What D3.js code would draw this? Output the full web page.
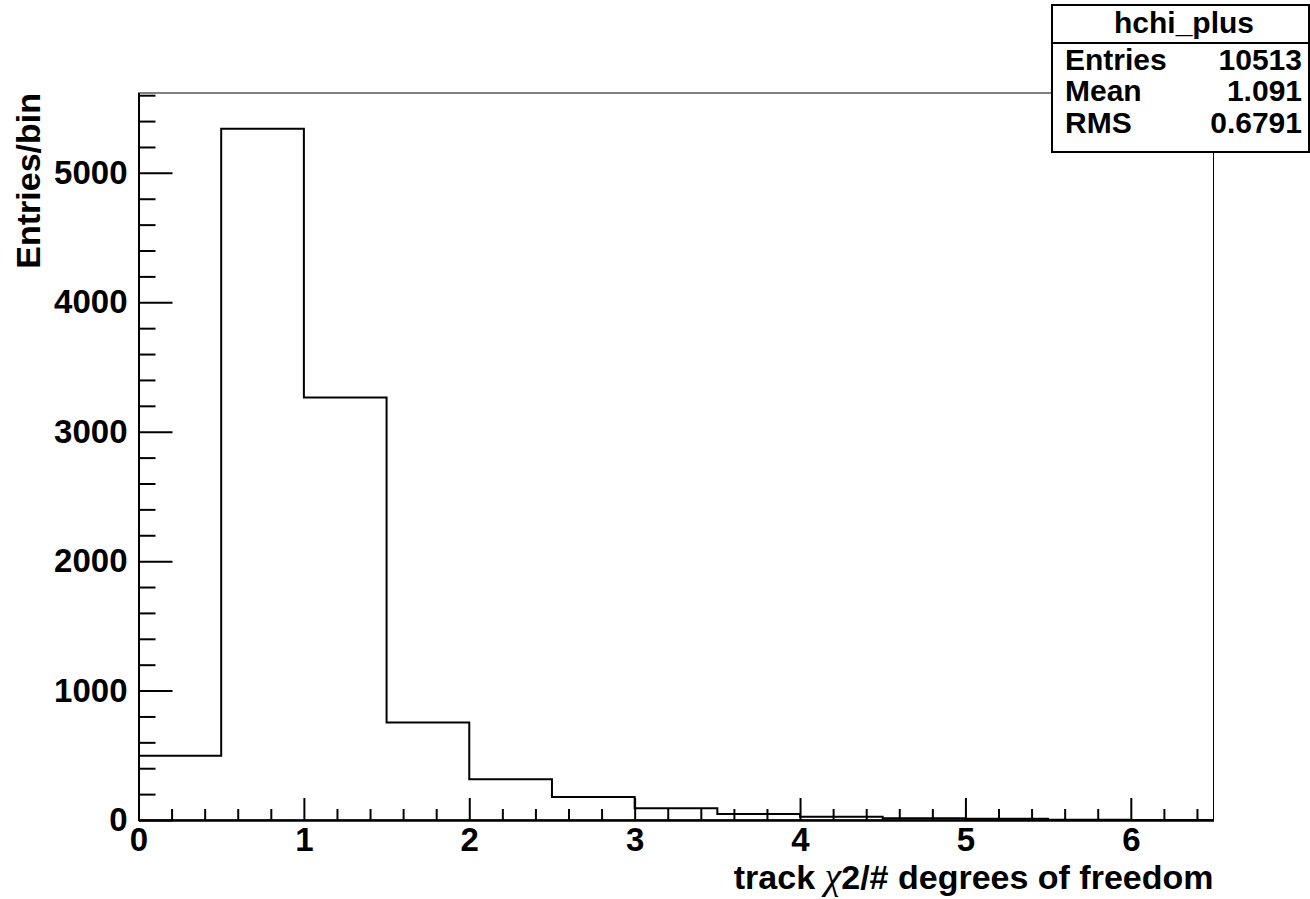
<!DOCTYPE html>
<html>
<head>
<meta charset="utf-8">
<script src="https://cdn.jsdelivr.net/npm/d3@7"></script>
<style>
  body { margin: 0; background: #fff; }
  svg { display: block; font-family: "Liberation Sans", Arial, sans-serif; font-weight: bold; }
</style>
</head>
<body>
<svg width="1310" height="899"></svg>
<script>
// histogram hchi_plus, bin width 0.5 from 0 to 6.5
var binWidth = 0.5;
var counts = [496, 5340, 3265, 754, 314, 178, 90, 46, 25, 13, 10, 1, 0];
var xMajor = [0, 1, 2, 3, 4, 5, 6];
var yMajor = [0, 1000, 2000, 3000, 4000, 5000];
var statLabels = ["Entries", "Mean", "RMS"];
var statValues = ["10513", "1.091", "0.6791"];
var histName = "hchi_plus";

var svg = d3.select("svg"),
    margin = {top: 93, right: 96.5, bottom: 79, left: 138.5},
    width = +svg.attr("width") - margin.left - margin.right,
    height = +svg.attr("height") - margin.top - margin.bottom,
    g = svg.append("g").attr("transform", "translate(" + margin.left + "," + margin.top + ")");

var xMax = binWidth * counts.length;
var yMax = 5617;

var x = d3.scaleLinear().domain([0, xMax]).range([0, width]);
var y = d3.scaleLinear().domain([0, yMax]).range([height, 0]);

// frame
g.append("rect")
  .attr("x", 0).attr("y", 0)
  .attr("width", width).attr("height", height)
  .attr("fill", "none")
  .attr("stroke", "#000")
  .attr("stroke-width", 1);

// histogram outline as a step line
var steps = [];
counts.forEach(function(c, i) {
  steps.push([i * binWidth, c]);
  steps.push([(i + 1) * binWidth, c]);
});
var line = d3.line()
  .x(function(d) { return x(d[0]); })
  .y(function(d) { return y(d[1]); });

g.append("path")
  .datum(steps)
  .attr("fill", "none")
  .attr("stroke", "#000")
  .attr("stroke-width", 2)
  .attr("d", line);

// minor ticks
var xMinor = d3.range(0, xMax + 1e-9, 0.2).filter(function(v) { return Math.abs(v - Math.round(v)) > 1e-6; });
var yMinor = d3.range(0, yMax, 200).filter(function(v) { return v % 1000 !== 0; });

g.append("g")
  .attr("transform", "translate(0," + height + ")")
  .call(d3.axisBottom(x).tickValues(xMinor).tickFormat("").tickSizeInner(-11).tickSizeOuter(0));

g.append("g")
  .attr("class", "axis-bottom")
  .attr("transform", "translate(0," + height + ")")
  .call(d3.axisBottom(x).tickValues(xMajor).tickFormat(d3.format("d")).tickSizeInner(-22).tickSizeOuter(0).tickPadding(8));

g.append("g")
  .call(d3.axisLeft(y).tickValues(yMinor).tickFormat("").tickSizeInner(-17).tickSizeOuter(0));

g.append("g")
  .attr("class", "axis-left")
  .call(d3.axisLeft(y).tickValues(yMajor).tickFormat(d3.format("d")).tickSizeInner(-34).tickSizeOuter(0).tickPadding(11));

svg.selectAll(".domain, .tick line")
  .attr("stroke", "#000")
  .attr("stroke-width", 2);

svg.selectAll(".tick text")
  .attr("fill", "#000")
  .style("font-size", "33px")
  .style("font-weight", "bold")
  .style("font-family", "'Liberation Sans', Arial, sans-serif");

// axis titles
var xt = svg.append("text")
  .attr("x", margin.left + width)
  .attr("y", 889)
  .attr("text-anchor", "end")
  .style("font-size", "34px");
xt.append("tspan").text("track ");
xt.append("tspan")
  .style("font-family", "'Liberation Serif', serif")
  .style("font-style", "italic")
  .style("font-weight", "normal")
  .style("font-size", "38px")
  .text("\u03c7");
xt.append("tspan").text("2/# degrees of freedom");

svg.append("text")
  .attr("transform", "translate(40," + margin.top + ") rotate(-90)")
  .attr("text-anchor", "end")
  .style("font-size", "34px")
  .text("Entries/bin");

// stats box
var box = svg.append("g");
box.append("rect")
  .attr("x", 1052).attr("y", 5)
  .attr("width", 257).attr("height", 147)
  .attr("fill", "#fff")
  .attr("stroke", "#000")
  .attr("stroke-width", 2);
box.append("line")
  .attr("x1", 1052).attr("x2", 1309)
  .attr("y1", 43).attr("y2", 43)
  .attr("stroke", "#000")
  .attr("stroke-width", 2);
box.append("text")
  .attr("x", 1184).attr("y", 33)
  .attr("text-anchor", "middle")
  .style("font-size", "30px")
  .text(histName);

var rowY = [70, 101, 133];
statLabels.forEach(function(lab, i) {
  box.append("text")
    .attr("x", 1065).attr("y", rowY[i])
    .style("font-size", "30px")
    .text(lab);
  box.append("text")
    .attr("x", 1302).attr("y", rowY[i])
    .attr("text-anchor", "end")
    .style("font-size", "30px")
    .text(statValues[i]);
});
</script>
</body>
</html>
